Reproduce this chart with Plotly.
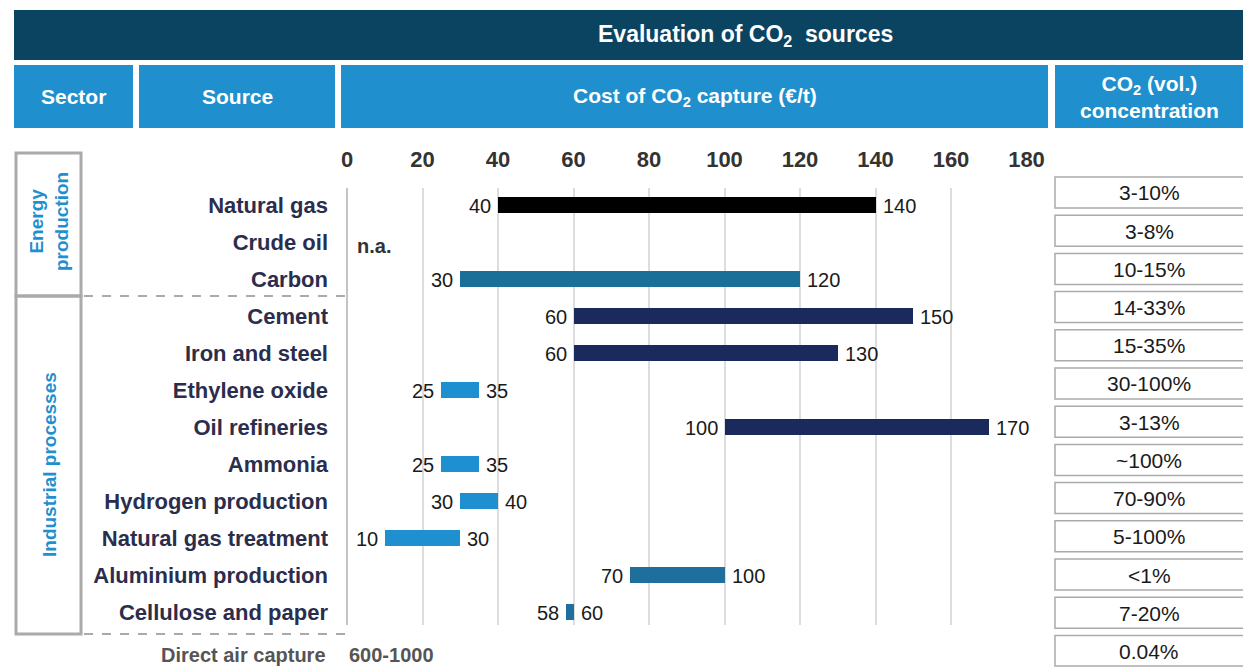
import plotly.graph_objects as go

# ---------------- data ----------------
sources = ["Natural gas", "Crude oil", "Carbon", "Cement", "Iron and steel",
           "Ethylene oxide", "Oil refineries", "Ammonia", "Hydrogen production",
           "Natural gas treatment", "Aluminium production", "Cellulose and paper"]
cost_low = [40, None, 30, 60, 60, 25, 100, 25, 30, 10, 75, 58]
cost_high = [140, None, 120, 150, 130, 35, 170, 35, 40, 30, 100, 60]
low_labels = ["40", "", "30", "60", "60", "25", "100", "25", "30", "10", "70", "58"]
high_labels = ["140", "", "120", "150", "130", "35", "170", "35", "40", "30", "100", "60"]
bar_colors = ["#000000", None, "#1a6f98", "#1b2a5c", "#1b2a5c", "#1f90cf",
              "#1b2a5c", "#1f90cf", "#1f90cf", "#1f90cf", "#1e6f9b", "#1e6f9b"]
concentrations = ["3-10%", "3-8%", "10-15%", "14-33%", "15-35%", "30-100%", "3-13%",
                  "~100%", "70-90%", "5-100%", "<1%", "7-20%", "0.04%"]
x_ticks = [0, 20, 40, 60, 80, 100, 120, 140, 160, 180]
dac_label = "Direct air capture"
dac_cost = "600-1000"
na_label = "n.a."

W, H = 1243, 667
def xp(px):
    return px / W
def yp(py):
    return 1 - py / H

FONT = "Liberation Sans, Arial, sans-serif"
DARK = "#0b4461"
LIGHT = "#1f8fcd"
GRAY = "#aaaaaa"

fig = go.Figure()

# bars
ys = [s for s, l in zip(sources, cost_low) if l is not None]
lo = [l for l in cost_low if l is not None]
hi = [h for h in cost_high if h is not None]
cols = [c for c, l in zip(bar_colors, cost_low) if l is not None]
fig.add_trace(go.Bar(
    y=ys, x=[h - l for h, l in zip(hi, lo)], base=lo, orientation="h",
    width=0.43, marker=dict(color=cols, line=dict(width=0)), hoverinfo="skip"))

shapes = []
annotations = []

# value labels
for s, l, h, lt, ht in zip(sources, cost_low, cost_high, low_labels, high_labels):
    if l is None:
        continue
    annotations.append(dict(x=l, y=s, xref="x", yref="y", xanchor="right", yanchor="middle",
                            xshift=-5, yshift=-1, text=lt, showarrow=False,
                            font=dict(family=FONT, size=20, color="#1a1a1a")))
    annotations.append(dict(x=h, y=s, xref="x", yref="y", xanchor="left", yanchor="middle",
                            xshift=5, yshift=-1, text=ht, showarrow=False,
                            font=dict(family=FONT, size=20, color="#1a1a1a")))

def pa(x, y, text, size, color, xanchor="center", yanchor="middle", **kw):
    d = dict(xref="paper", yref="paper", x=x, y=y, text=text, showarrow=False,
             xanchor=xanchor, yanchor=yanchor,
             font=dict(family=FONT, size=size, color=color))
    d.update(kw)
    return d

# header
shapes.append(dict(type="rect", xref="paper", yref="paper", x0=xp(14), x1=xp(1250),
                   y0=yp(60), y1=yp(10), fillcolor=DARK, line=dict(width=0), layer="above"))
annotations.append(pa(xp(745), yp(36), "<b>Evaluation of CO<sub>2</sub>  sources</b>", 23, "white"))
boxes = [(14, 133, "<b>Sector</b>"), (139, 335, "<b>Source</b>"),
         (341, 1048, "<b>Cost of CO<sub>2</sub> capture (€/t)</b>"),
         (1055, 1250, "<b>CO<sub>2</sub> (vol.)<br>concentration</b>")]
for x0, x1, t in boxes:
    shapes.append(dict(type="rect", xref="paper", yref="paper", x0=xp(x0), x1=xp(x1),
                       y0=yp(128), y1=yp(65), fillcolor=LIGHT, line=dict(width=0), layer="above"))
    cx = (x0 + x1) / 2 if x1 < 1243 else 1149
    annotations.append(pa(xp(cx), yp(97), t, 21, "white"))

# sector boxes
shapes.append(dict(type="rect", xref="paper", yref="paper", x0=xp(16), x1=xp(81),
                   y0=yp(296), y1=yp(153), line=dict(color=GRAY, width=3)))
shapes.append(dict(type="rect", xref="paper", yref="paper", x0=xp(16), x1=xp(81),
                   y0=yp(634), y1=yp(296), line=dict(color=GRAY, width=3)))
annotations.append(pa(xp(49), yp(222), "<b>Energy<br>production</b>", 19, "#1f90cf",
                      textangle=-90))
annotations.append(pa(xp(49), yp(465), "<b>Industrial processes</b>", 19, "#1f90cf",
                      textangle=-90))
for yy in (296, 634):
    shapes.append(dict(type="line", xref="paper", yref="paper", x0=xp(84), x1=xp(345),
                       y0=yp(yy), y1=yp(yy), line=dict(color="#aaaaaa", width=2, dash="dash")))

# n.a.
annotations.append(dict(x=0, y="Crude oil", xref="x", yref="y", xanchor="left",
                        yanchor="middle", xshift=8, yshift=-4,
                        text="<b>" + na_label + "</b>", showarrow=False,
                        font=dict(family=FONT, size=20, color="#333333")))

# direct air capture
annotations.append(pa(xp(328), yp(655), "<b>" + dac_label + "</b>", 20, "#555555",
                      xanchor="right"))
annotations.append(pa(xp(347), yp(655), "<b>" + dac_cost + "</b>", 20, "#555555",
                      xanchor="left"))

# concentration column
for i, c in enumerate(concentrations):
    top = 177 + i * 38.2
    shapes.append(dict(type="rect", xref="paper", yref="paper", x0=xp(1055), x1=xp(1250),
                       y0=yp(min(top + 31, 666)), y1=yp(top), line=dict(color=GRAY, width=1.5),
                       fillcolor="white"))
    annotations.append(pa(xp(1149), yp(top + 16), c, 21, "#1a1a1a"))

fig.update_layout(
    width=W, height=H,
    margin=dict(l=0, r=0, t=0, b=0, pad=0, autoexpand=False),
    paper_bgcolor="white", plot_bgcolor="white", showlegend=False,
    shapes=shapes, annotations=annotations, hovermode=False, bargap=0,
    xaxis=dict(domain=[xp(347), xp(1026.5)], range=[0, 180], side="top",
               tickvals=x_ticks, ticktext=["<b>%d</b>" % v for v in x_ticks],
               tickfont=dict(family=FONT, size=22, color="#333333"),
               showgrid=True, gridcolor="#dddddd", gridwidth=1.5,
               zeroline=True, zerolinecolor="#c4c4c4", zerolinewidth=2,
               showline=False, ticks="", ticklabelstandoff=16, fixedrange=True,
               automargin=False),
    yaxis=dict(domain=[yp(625), yp(188)], type="category", categoryarray=sources,
               range=[11.35, -0.46], showgrid=False, zeroline=False, showline=False,
               ticks="", tickvals=sources, ticktext=["<b>%s</b>" % s for s in sources],
               tickfont=dict(family=FONT, size=22, color="#2b2d4c"),
               ticklabelstandoff=18, fixedrange=True, automargin=False),
)

fig.write_html("out.html")
